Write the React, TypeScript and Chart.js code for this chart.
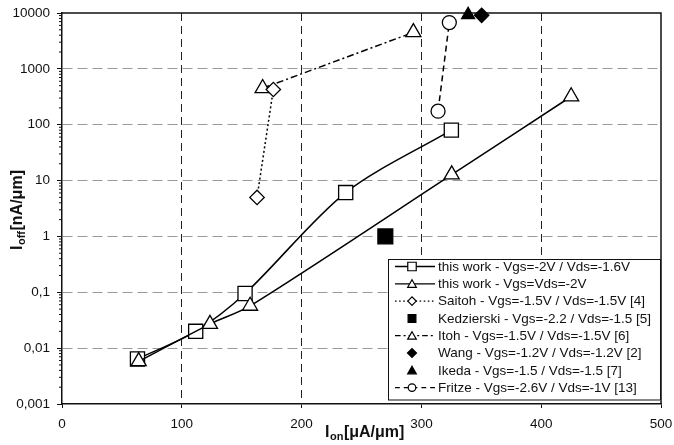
import React, { useEffect, useRef } from 'react';
import { Chart, registerables } from 'chart.js';

Chart.register(...registerables);

// ---- data ----
const xTickValues = [0, 100, 200, 300, 400, 500];
const yDecades = [0.001, 0.01, 0.1, 1, 10, 100, 1000, 10000];
const yTickLabels = ['0,001', '0,01', '0,1', '1', '10', '100', '1000', '10000'];

const workAX = [63, 111.6, 152.8, 236.8, 325];
const workAY = [0.0064, 0.02, 0.095, 6.1, 80];
const workBX = [64, 123.5, 157, 325.3, 425];
const workBY = [0.0058, 0.027, 0.057, 12.8, 320];
const saitohX = [162.8, 176.4];
const saitohY = [5, 427];
const kedzierskiX = [269.9];
const kedzierskiY = [1.0];
const itohX = [167.5, 293.3];
const itohY = [450, 4500];
const wangX = [350.3];
const wangY = [9100];
const ikedaX = [339];
const ikedaY = [9300];
const fritzeX = [313.9, 323.3];
const fritzeY = [175, 6750];

const seriesLabels = [
  'this work - Vgs=-2V / Vds=-1.6V',
  'this work - Vgs=Vds=-2V',
  'Saitoh - Vgs=-1.5V / Vds=-1.5V [4]',
  'Kedzierski - Vgs=-2.2 / Vds=-1.5 [5]',
  'Itoh - Vgs=-1.5V / Vds=-1.5V [6]',
  'Wang - Vgs=-1.2V / Vds=-1.2V [2]',
  'Ikeda - Vgs=-1.5 / Vds=-1.5 [7]',
  'Fritze - Vgs=-2.6V / Vds=-1V [13]',
];

const FONT = '"Liberation Sans", Arial, Helvetica, sans-serif';

const pts = (xs: number[], ys: number[]) => xs.map((x, i) => ({ x, y: ys[i] }));

type Sty = { dash: number[] | null; shape: string; fill: boolean; r: number; lr: number };
const styles: Sty[] = [
  { dash: [], shape: 'rect', fill: false, r: 10, lr: 6 },
  { dash: [], shape: 'triangle', fill: false, r: 8.7, lr: 5 },
  { dash: [2, 2.5], shape: 'rectRot', fill: false, r: 7.2, lr: 4.2 },
  { dash: null, shape: 'rect', fill: true, r: 10.5, lr: 5.5 },
  { dash: [7, 3, 2, 3], shape: 'triangle', fill: false, r: 8.7, lr: 5 },
  { dash: null, shape: 'rectRot', fill: true, r: 7.2, lr: 4.5 },
  { dash: null, shape: 'triangle', fill: true, r: 7.5, lr: 5 },
  { dash: [6, 4], shape: 'circle', fill: false, r: 7, lr: 3.8 },
];

function drawMarker(ctx: CanvasRenderingContext2D, shape: string, x: number, y: number, r: number, fill: boolean) {
  ctx.beginPath();
  if (shape === 'rect') {
    const s = Math.SQRT1_2 * r;
    ctx.rect(x - s, y - s, 2 * s, 2 * s);
  } else if (shape === 'rectRot') {
    ctx.moveTo(x - r, y);
    ctx.lineTo(x, y - r);
    ctx.lineTo(x + r, y);
    ctx.lineTo(x, y + r);
    ctx.closePath();
  } else if (shape === 'triangle') {
    ctx.moveTo(x, y - r);
    ctx.lineTo(x + Math.sin(Math.PI / 3) * r, y + 0.5 * r);
    ctx.lineTo(x - Math.sin(Math.PI / 3) * r, y + 0.5 * r);
    ctx.closePath();
  } else {
    ctx.arc(x, y, r, 0, Math.PI * 2);
  }
  ctx.fillStyle = fill ? '#000' : '#fff';
  ctx.fill();
  ctx.strokeStyle = '#000';
  ctx.lineWidth = 1.2;
  ctx.setLineDash([]);
  ctx.stroke();
}

const TITLE_SIZE = 16;
const SUB_SIZE = 11;

const framePlugin = {
  id: 'frame',
  beforeDatasetsDraw(chart: any) {
    const { ctx, chartArea: a, scales } = chart;
    ctx.save();
    ctx.strokeStyle = '#111';
    ctx.lineWidth = 1.5;
    ctx.setLineDash([]);
    ctx.beginPath();
    ctx.moveTo(a.left, a.top);
    ctx.lineTo(a.right, a.top);
    ctx.lineTo(a.right, a.bottom);
    ctx.stroke();
    const y = scales.y;
    ctx.lineWidth = 1;
    ctx.beginPath();
    for (let e = -3; e < 4; e++) {
      for (let k = 2; k <= 9; k++) {
        const py = y.getPixelForValue(k * Math.pow(10, e));
        ctx.moveTo(a.left - 3, py);
        ctx.lineTo(a.left, py);
      }
    }
    ctx.stroke();
    ctx.restore();
  },
  afterDraw(chart: any) {
    const { ctx, chartArea: a } = chart;
    ctx.save();
    const measure = (main: string, sub: string, rest: string) => {
      ctx.font = `bold ${TITLE_SIZE}px ${FONT}`;
      const w1 = ctx.measureText(main).width;
      const w3 = ctx.measureText(rest).width;
      ctx.font = `bold ${SUB_SIZE}px ${FONT}`;
      const w2 = ctx.measureText(sub).width;
      return { w1, w2, w3, total: w1 + w2 + w3 + 1 };
    };
    const paint = (main: string, sub: string, rest: string, x0: number) => {
      const m = measure(main, sub, rest);
      ctx.fillStyle = '#111';
      ctx.textBaseline = 'alphabetic';
      ctx.textAlign = 'left';
      ctx.font = `bold ${TITLE_SIZE}px ${FONT}`;
      ctx.fillText(main, x0, 0);
      ctx.font = `bold ${SUB_SIZE}px ${FONT}`;
      ctx.fillText(sub, x0 + m.w1 + 0.5, 3);
      ctx.font = `bold ${TITLE_SIZE}px ${FONT}`;
      ctx.fillText(rest, x0 + m.w1 + m.w2 + 1, 0);
    };
    ctx.save();
    ctx.translate(325, 437);
    paint('I', 'on', '[μA/μm]', 0);
    ctx.restore();
    ctx.save();
    const m = measure('I', 'off', '[nA/μm]');
    ctx.translate(22, 210);
    ctx.rotate(-Math.PI / 2);
    paint('I', 'off', '[nA/μm]', -m.total / 2);
    ctx.restore();

    // legend box
    const x0 = a.left + 326;
    const x1 = a.right;
    const y0 = 259;
    const y1 = 400.5;
    ctx.fillStyle = '#fff';
    ctx.fillRect(x0, y0, x1 - x0, y1 - y0);
    ctx.strokeStyle = '#111';
    ctx.lineWidth = 1;
    ctx.setLineDash([]);
    ctx.strokeRect(x0 + 0.5, y0 + 0.5, x1 - x0 - 1, y1 - y0 - 1);
    seriesLabels.forEach((lab, i) => {
      const cy = 266.5 + i * 17.3;
      const st = styles[i];
      const mx = x0 + 24;
      if (st.dash) {
        ctx.strokeStyle = '#000';
        ctx.lineWidth = 1.3;
        ctx.setLineDash(st.dash.length ? [Math.max(1.5, st.dash[0] * 0.8), ...st.dash.slice(1)] : []);
        ctx.beginPath();
        ctx.moveTo(x0 + 7, cy);
        ctx.lineTo(x0 + 47, cy);
        ctx.stroke();
        ctx.setLineDash([]);
      }
      drawMarker(ctx, st.shape, mx, cy + (st.shape === 'triangle' ? 1 : 0), st.lr, st.fill);
      ctx.fillStyle = '#111';
      ctx.font = `13.5px ${FONT}`;
      ctx.textAlign = 'left';
      ctx.textBaseline = 'middle';
      ctx.fillText(lab, x0 + 50, cy + 0.5);
    });
    ctx.restore();
  },
};

export default function App() {
  const ref = useRef<HTMLCanvasElement | null>(null);
  useEffect(() => {
    if (!ref.current) return;
    const series = [
      pts(workAX, workAY),
      pts(workBX, workBY),
      pts(saitohX, saitohY),
      pts(kedzierskiX, kedzierskiY),
      pts(itohX, itohY),
      pts(wangX, wangY),
      pts(ikedaX, ikedaY),
      pts(fritzeX, fritzeY),
    ];
    const datasets = series.map((data, i) => {
      const st = styles[i];
      return {
        label: seriesLabels[i],
        data,
        order: i === 1 ? -1 : i,
        showLine: st.dash !== null,
        borderColor: '#000',
        borderWidth: 1.5,
        borderDash: st.dash || [],
        tension: i < 2 ? 0.3 : 0,
        pointStyle: st.shape,
        pointRadius: st.r,
        pointHoverRadius: st.r,
        pointBackgroundColor: st.fill ? '#000' : '#fff',
        pointBorderColor: '#000',
        pointBorderWidth: 1.3,
        fill: false,
        clip: false as any,
      };
    });
    const chart = new Chart(ref.current, {
      type: 'line',
      data: { datasets },
      options: {
        animation: false,
        responsive: false,
        devicePixelRatio: 1,
        layout: { padding: { top: 13, right: 13, left: 0, bottom: 0 } },
        plugins: { legend: { display: false }, tooltip: { enabled: false } },
        scales: {
          x: {
            type: 'linear',
            min: 0,
            max: 500,
            afterBuildTicks: (s: any) => {
              s.ticks = xTickValues.map((v) => ({ value: v }));
            },
            afterFit: (s: any) => {
              s.height = 41;
              s.paddingLeft = 0;
              s.paddingRight = 0;
            },
            ticks: {
              autoSkip: false,
              maxRotation: 0,
              padding: 8,
              color: '#111',
              font: { family: FONT, size: 13.5 },
              callback: (v: any) => String(v),
            },
            grid: {
              color: (c: any) => (c.tick && (c.tick.value === 0 || c.tick.value === 500) ? 'rgba(0,0,0,0)' : '#222'),
              lineWidth: 1,
              tickColor: '#111',
              tickLength: 4,
            },
            border: { display: true, color: '#111', width: 1.5, dash: [8, 5] },
          },
          y: {
            type: 'logarithmic',
            min: 0.001,
            max: 10000,
            afterBuildTicks: (s: any) => {
              s.ticks = yDecades.map((v) => ({ value: v, major: true }));
            },
            afterFit: (s: any) => {
              s.width = 62;
              s.paddingTop = 0;
              s.paddingBottom = 0;
            },
            ticks: {
              autoSkip: false,
              padding: 7,
              color: '#111',
              font: { family: FONT, size: 13.5 },
              callback: (v: any) => {
                const idx = yDecades.findIndex((d) => Math.abs(d - v) / d < 1e-6);
                return idx >= 0 ? yTickLabels[idx] : '';
              },
            },
            grid: {
              color: (c: any) =>
                c.tick && (Math.abs(c.tick.value - 0.001) < 1e-9 || c.tick.value === 10000) ? 'rgba(0,0,0,0)' : '#9a9a9a',
              lineWidth: 1,
              tickColor: '#111',
              tickLength: 5,
            },
            border: { display: true, color: '#111', width: 1.5, dash: [10, 5] },
          },
        },
      },
      plugins: [framePlugin],
    });
    return () => chart.destroy();
  }, []);
  return (
    <div style={{ position: 'absolute', left: 0, top: 0, width: 674, height: 445, background: '#fff' }}>
      <canvas ref={ref} width={674} height={445} style={{ width: 674, height: 445, display: 'block' }} />
    </div>
  );
}
